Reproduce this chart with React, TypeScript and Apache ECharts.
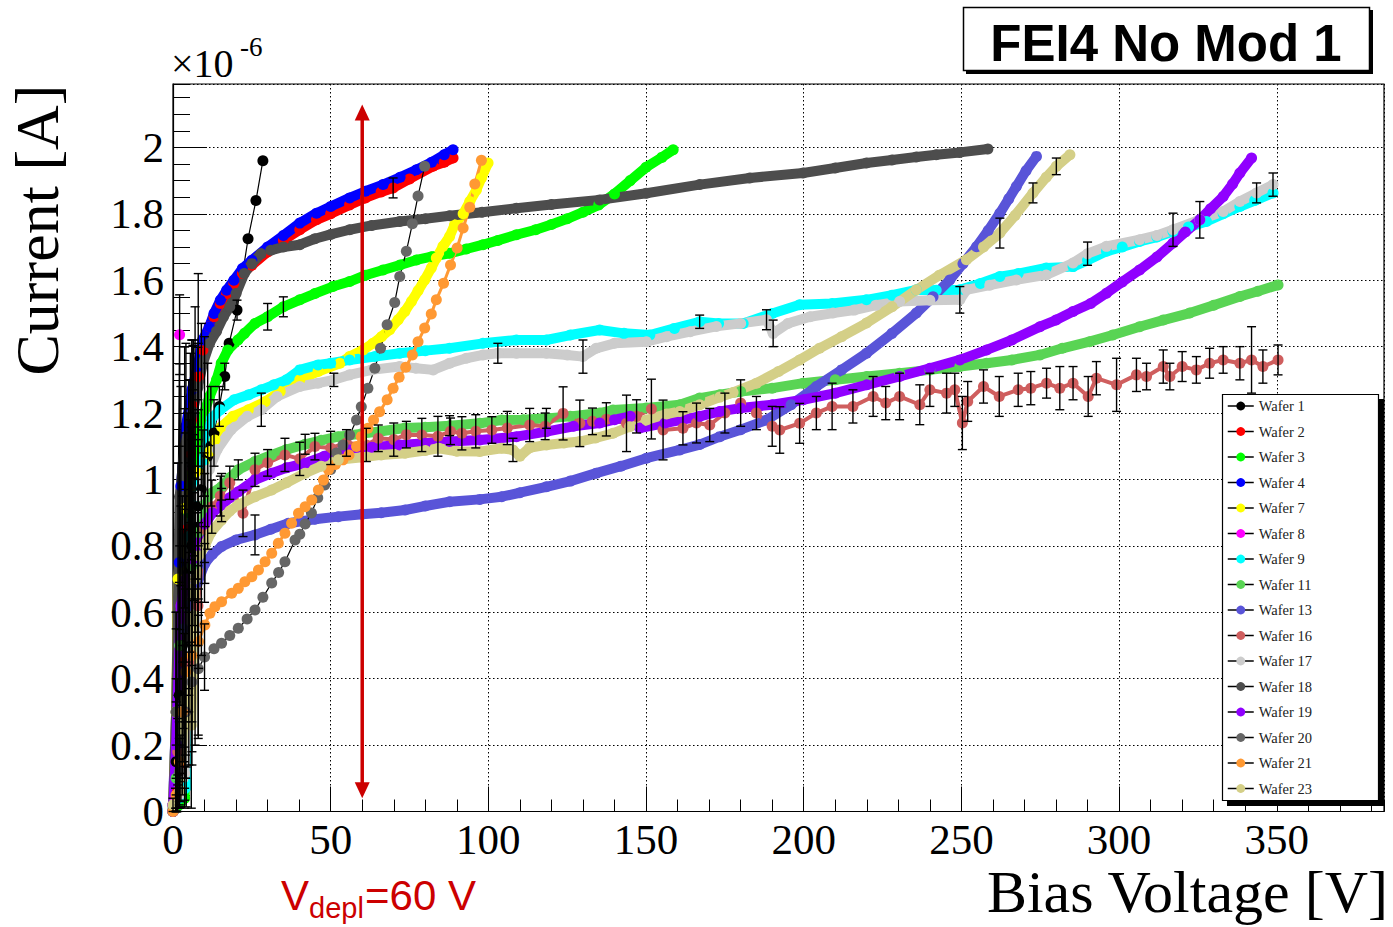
import React, { useEffect, useRef } from "react";
import * as echarts from "echarts";

// Each point: [bias voltage (V), leakage current (×1e-6 A), optional error half-width (×1e-6 A)]
type Pt = number[];

const WAFER_NAMES = [
  "Wafer 1", "Wafer 2", "Wafer 3", "Wafer 4", "Wafer 7", "Wafer 8", "Wafer 9", "Wafer 11",
  "Wafer 13", "Wafer 16", "Wafer 17", "Wafer 18", "Wafer 19", "Wafer 20", "Wafer 21", "Wafer 23",
];

const WAFER_COLORS = [
  "#000000", "#ff0000", "#00ff00", "#0000ff", "#ffff00", "#ff00ff", "#00ffff", "#59d454",
  "#5954d8", "#cf5e5e", "#cccccc", "#4d4d4d", "#9000ff", "#666666", "#ff9933", "#d4cf87",
];

const W1: Pt[] = [[0,0.02,0.02],[1,0.15,0.18],[2,0.35,0.34],[3,0.5,0.45],[4,0.62,0.52],[5,0.72,0.58],[6,0.8,0.62],[7,0.86,0.66],[8,0.92,0.7],[9,0.97,0.5],[10,1.03,0.4],[11,1.07,0.28],[12,1.1,0.18],[13,1.14,0.1],[14.7,1.22,0.06],[16.4,1.31,0.04],[17.8,1.41],[20.3,1.51,0.03],[23.8,1.725],[26.3,1.84],[28.5,1.96]];

const W2: Pt[] = [[0,0],[1.5,0.06,0.05],[2.5,0.13,0.1],[3.5,0.45,0.3],[4.5,0.85,0.35],[5.5,1.08,0.3],[6.5,1.22,0.2],[8,1.31,0.1],[9.5,1.39],[11.5,1.46],[13,1.49],[15,1.53],[17,1.56],[19.3,1.59],[22,1.62],[25,1.645],[30,1.685],[35,1.72],[40.2,1.752],[45.5,1.782],[50,1.8],[56,1.827],[61,1.848],[66,1.866],[69.8,1.878,0.03],[75,1.905],[82.4,1.943],[86,1.955],[88.8,1.968]];

const W3: Pt[] = [[0,0],[2,0.02],[3.7,0.04,0.03],[5,0.9,0.4],[6.3,1.02,0.25],[7.9,1.12,0.12],[9.5,1.19],[11.6,1.25],[13.8,1.3],[15.3,1.35],[17.4,1.39],[20.6,1.42],[22.7,1.44],[26,1.47],[30,1.49,0.04],[35,1.52,0.03],[40.2,1.541],[45,1.56],[50.7,1.581],[56,1.596],[61,1.615],[66.6,1.631],[72,1.646],[77.2,1.661],[82,1.671],[87.7,1.681],[93,1.694],[98.3,1.707],[103,1.72],[108.9,1.737],[115,1.752],[120,1.768],[125,1.785],[130,1.805],[135,1.827],[140,1.86],[145,1.9],[150,1.94],[155,1.97],[158.6,1.993]];

const W4: Pt[] = [[0,0.02],[1,0.3,0.25],[2,0.75,0.35],[2.5,0.98,0.3],[4.1,1.16,0.25],[6,1.27,0.15],[7.8,1.34],[9.4,1.42],[11.5,1.46],[13,1.5],[15,1.54],[17,1.57],[19.3,1.6],[22,1.635],[25,1.66],[30,1.7],[35,1.735],[40.2,1.772],[45.5,1.802],[50,1.822],[56,1.848],[61,1.868],[66.6,1.888],[72,1.91],[77.2,1.933],[82,1.955],[86,1.978],[88.8,1.993]];

const W7: Pt[] = [[0,0],[1,0.3,0.3],[1.6,0.7,0.35],[3.7,0.913,0.3],[5.8,0.958,0.2],[8,1.02,0.1],[9.8,1.05],[11.7,1.084],[13.3,1.119],[15.4,1.159],[19,1.19],[23.9,1.21],[29.2,1.234],[34,1.265],[40.2,1.3],[46,1.325],[52.9,1.35],[56,1.37],[60.3,1.39],[63.4,1.41],[66.1,1.43],[68.7,1.451],[71.4,1.481],[73.5,1.506],[75.6,1.536],[77.7,1.568],[79.8,1.601],[81.9,1.637],[83.5,1.667],[85.6,1.702],[87.7,1.732],[89.3,1.767],[92,1.8],[94.1,1.837],[96.2,1.872],[97.8,1.908],[99.9,1.953]];

const W8: Pt[] = [[0,0.02],[0.8,0.04,0.03],[2.1,1.436,0.12]];

const W9: Pt[] = [[0,0],[2,0.04,0.03],[4.2,0.074,0.06],[5.3,0.83,0.35],[7,0.95,0.25],[9.5,1.049,0.1],[12.2,1.184],[15,1.21],[19.4,1.24],[24,1.255],[28,1.27],[32,1.285],[36,1.3],[40.2,1.33],[46,1.345],[50,1.35],[56,1.36],[64,1.37],[71.9,1.38],[80,1.388],[87.7,1.395],[98.3,1.41],[108.9,1.42],[118.4,1.42],[126,1.435],[135.3,1.45],[143,1.44],[151.2,1.435],[159,1.455],[167,1.475,0.02],[173,1.47],[180.8,1.47],[190,1.5],[198.7,1.526],[209,1.53],[219.9,1.541],[228,1.555],[235.7,1.571],[242,1.57],[249.5,1.571],[256,1.59],[262.2,1.611],[268,1.62],[276.9,1.637],[285.4,1.641],[290,1.66],[296,1.687],[301,1.7],[306.5,1.717],[312,1.73],[317.1,1.747],[322,1.76],[327.7,1.777],[333,1.8],[338.3,1.822],[343,1.84],[348.8,1.863]];

const W11: Pt[] = [[0,0],[1,0.1,0.1],[2.1,0.5,0.3],[4,0.62,0.35],[6,0.74,0.3],[8,0.84,0.2],[10.1,0.938,0.08],[12.5,0.96],[15.4,0.978,0.04],[18,1.005],[20.7,1.029,0.03],[26,1.054],[31.3,1.074],[36,1.09],[41.9,1.106,0.03],[47,1.118],[52.4,1.129],[60,1.138],[66,1.145],[73.6,1.155],[80,1.157],[87.7,1.162,0.03],[97.3,1.169],[104.2,1.179],[111,1.18],[118.4,1.184,0.03],[126,1.19],[135.3,1.2],[139.5,1.209],[150,1.215],[160.7,1.225],[167,1.245],[173.4,1.255],[180,1.265],[190,1.275],[199.8,1.29],[210,1.3],[220,1.31],[230.4,1.32],[240,1.33],[249.5,1.34],[258,1.35],[266,1.36],[274.9,1.375],[282,1.395],[290.6,1.415],[298,1.435],[306.5,1.46],[314,1.48],[322.4,1.501],[330,1.525],[338.3,1.551],[344,1.567],[350.4,1.586]];

const W13: Pt[] = [[0,0],[1.5,0.2,0.2],[3.2,0.55,0.3],[5,0.62,0.25],[7.8,0.69,0.15],[10.1,0.747,0.06],[12.5,0.775],[15.4,0.798],[20,0.818],[26,0.833,0.06],[31,0.85],[36.6,0.868],[45,0.88],[52.4,0.888],[60,0.895],[66,0.9],[73.6,0.908],[80,0.92],[87.7,0.933],[97.3,0.94],[104.2,0.948],[110,0.96],[118.4,0.978],[126,0.995],[134.2,1.019],[142,1.04],[150.1,1.064],[160.7,1.089],[167,1.105],[173.4,1.129],[180,1.15],[188.2,1.179],[196,1.225],[204,1.28],[212,1.33],[219.9,1.38],[228,1.44],[235.7,1.501],[241,1.55],[246.3,1.601],[250.5,1.65],[254.8,1.701],[258.5,1.75],[262.2,1.802],[265,1.845],[267.4,1.882],[270.5,1.93],[273.8,1.973]];

const W16: Pt[] = [[0,0,0],[1.5,0.18,0.1],[3,0.3,0.15],[5,0.45,0.15],[7.9,0.62,0.12],[10,0.85,0.1],[12.3,0.918,0.08],[15,0.95,0.06],[18,0.99,0.05],[22.2,0.898,0.07],[26,1.029,0.05],[30,1.05,0.04],[35.5,1.074,0.05],[40.2,1.062,0.05],[45,1.099,0.04],[50,1.095,0.05],[55,1.11,0.04],[61.3,1.104,0.05],[65.1,1.124,0.04],[70,1.12,0.05],[74,1.135,0.04],[78.9,1.134,0.05],[84,1.13,0.06],[88,1.145,0.04],[91.6,1.139,0.05],[96,1.145,0.05],[101.1,1.149,0.04],[106,1.155,0.05],[113.1,1.164,0.05],[118,1.16,0.04],[123.7,1.199,0.08],[129,1.169,0.07],[133,1.175,0.04],[137.4,1.181,0.05],[143.8,1.169,0.085],[147,1.19,0.05],[151.7,1.212,0.09],[155.4,1.149,0.09],[161.7,1.154,0.05],[166,1.17,0.06],[170.2,1.164,0.05],[175,1.2,0.06],[180,1.23,0.07],[185,1.2,0.05],[190,1.16,0.06],[192.4,1.149,0.07],[198.7,1.169,0.06],[204,1.2,0.05],[209,1.22,0.07],[215.6,1.22,0.05],[222,1.25,0.06],[226,1.23,0.05],[230.4,1.25,0.07],[236.8,1.225,0.06],[240,1.27,0.05],[245.3,1.26,0.06],[247.9,1.27,0.05],[250.3,1.17,0.08],[252,1.235,0.06],[257,1.28,0.05],[262,1.25,0.06],[268,1.27,0.05],[272,1.275,0.05],[277,1.29,0.045],[281.2,1.275,0.065],[285.4,1.29,0.05],[290.2,1.25,0.06],[292.8,1.305,0.05],[299.2,1.285,0.08],[305.5,1.315,0.05],[308.7,1.31,0.04],[314,1.34,0.05],[316.1,1.31,0.04],[320,1.34,0.045],[324.5,1.33,0.04],[328.7,1.35,0.045],[333,1.36,0.04],[338.3,1.35,0.05],[342,1.36,0.1],[345.6,1.34,0.05],[350.4,1.36,0.045]];

const W17: Pt[] = [[0,0],[2,0.05,0.04],[3.7,0.114,0.08],[5,0.7,0.35],[6.6,0.885,0.25],[8,0.95,0.15],[9.8,1.0,0.08],[11.5,1.03],[14,1.09],[18.4,1.15],[23.6,1.19],[28,1.21,0.05],[33,1.25],[40.2,1.28],[46,1.29],[51,1.3,0.02],[56,1.315],[63,1.33],[71.9,1.34],[77,1.335],[82.5,1.33],[87.7,1.35],[93,1.365],[98.3,1.375],[103,1.38,0.03],[108.9,1.38],[118.4,1.38],[125,1.375],[130,1.37,0.05],[134.2,1.395],[140,1.41],[150.1,1.415],[156.5,1.43],[164,1.445],[172.3,1.461],[180,1.47],[188.2,1.481,0.03],[190.3,1.44,0.04],[195,1.47],[202,1.49],[209.3,1.501],[216,1.51],[223,1.525],[230.4,1.536],[240,1.54],[249.5,1.541,0.04],[251.6,1.571],[259,1.585],[267.4,1.601],[276.9,1.616],[285.4,1.652],[290,1.68,0.035],[296,1.702],[306.5,1.722],[312,1.735],[317.1,1.752,0.05],[325.6,1.782,0.055],[333,1.807],[338.3,1.837],[343.6,1.863,0.03],[348.8,1.888,0.035]];

const W18: Pt[] = [[0,0],[1,0.3,0.3],[2.1,0.948,0.4],[3.7,1.099,0.3],[6.3,1.204,0.2],[7.9,1.278,0.12],[9.5,1.35],[11.6,1.41],[13.8,1.446],[16,1.49],[18,1.52],[20,1.56],[22.6,1.62],[25,1.65],[27.9,1.68],[31,1.69],[35,1.7],[40.2,1.707],[45,1.725],[50,1.738],[56,1.752],[63,1.765],[71.9,1.777],[80,1.785],[87.7,1.794],[98,1.805],[108.9,1.817],[120,1.828],[135.3,1.842],[150.1,1.862],[167,1.888],[182.9,1.908],[199.8,1.923],[210,1.938],[219.9,1.953],[228,1.962],[235.7,1.971],[242,1.978],[249.5,1.985],[258.4,1.995]];

const W19: Pt[] = [[0,0],[1,0.2,0.2],[2.5,0.62,0.3],[4.1,0.7,0.25],[6.3,0.76,0.2],[7.8,0.8,0.1],[10.1,0.865],[12.5,0.9],[15.4,0.923,0.05],[18,0.945],[20.7,0.963],[26,0.999],[31.3,1.019],[36,1.035],[41.9,1.049],[48,1.07],[56,1.089],[63,1.097],[71.9,1.104],[80,1.109],[87.7,1.114],[97.3,1.119],[108.9,1.129],[118.4,1.144],[127,1.16],[135.3,1.17],[140,1.18],[145,1.19],[148,1.155],[156,1.17],[167,1.19],[173.4,1.205],[180,1.215],[190,1.225],[199.8,1.24],[210,1.26],[220,1.285],[230.4,1.31],[240,1.335],[249.5,1.36],[258,1.39],[266,1.42],[274.9,1.46],[280,1.48],[285.4,1.506],[291,1.53],[296,1.561],[301,1.595],[306.5,1.631],[312,1.67],[317.1,1.712],[321,1.745],[325.6,1.782],[329,1.815],[333,1.852],[336,1.89],[338.3,1.923],[342,1.968]];

const W20: Pt[] = [[0,0.01],[2,0.12,0.1],[4,0.3,0.2],[6,0.39,0.25],[8,0.43,0.2],[10,0.465,0.1],[13,0.49],[15.4,0.507],[18,0.53],[20.7,0.552],[23.5,0.58],[26,0.607],[28.5,0.645],[31.3,0.688],[33.5,0.72],[35.5,0.752],[38.7,0.818],[40.2,0.835],[41.9,0.866],[43.9,0.899],[45.9,0.945],[48.1,0.983],[50,1.03],[51.8,1.08],[53.9,1.104],[56,1.134],[58.2,1.179],[59.7,1.219],[61.8,1.275],[64,1.335],[65.8,1.395],[67.9,1.466],[70.3,1.533],[71.9,1.611],[74,1.687],[75.9,1.77],[77.7,1.854],[79.8,1.943]];

const W21: Pt[] = [[0,0],[1,0.05,0.05],[2,0.15,0.12],[3,0.3,0.2],[4,0.42,0.25],[6,0.47,0.2],[8.1,0.511,0.08],[10.1,0.562],[11.7,0.597],[13.3,0.617],[15.4,0.632],[18.6,0.657],[20.7,0.672],[22.8,0.692],[25,0.707],[27.1,0.727],[29.2,0.752],[31.3,0.778],[33.4,0.808],[35.5,0.838],[37.6,0.868],[39.8,0.898],[41.9,0.918],[44,0.938],[46.1,0.968],[47.7,0.998],[49.3,1.029],[51.5,1.045],[53.9,1.059],[55.8,1.074],[58.2,1.099],[59.7,1.129],[61.8,1.154],[63.6,1.179],[65.5,1.204],[67.9,1.24],[69.8,1.275],[71.7,1.308],[73.8,1.338],[75.9,1.375],[77.7,1.415],[79.8,1.456],[81.9,1.498],[83.5,1.541],[85.8,1.591],[88,1.646],[90.1,1.697],[92,1.757],[94.1,1.82],[95.7,1.89],[97.8,1.961]];

const W23: Pt[] = [[0,0.02],[2.1,0.065,0.05],[3.7,0.336,0.2],[5.8,0.26,0.25],[7,0.7,0.2],[8.1,0.77,0.1],[10.1,0.8],[12,0.84],[15.4,0.878],[18,0.905],[20.7,0.923],[26,0.948],[31.3,0.968],[36,0.99],[41.9,1.019],[47,1.04],[52.4,1.059],[60,1.067],[66,1.074],[73.6,1.079],[80,1.087],[84.2,1.094],[90,1.085],[97.3,1.084],[104.2,1.094],[107.8,1.089,0.035],[110,1.07],[113,1.095],[118.4,1.104],[124,1.11],[129,1.114],[134,1.125],[139.5,1.139],[144.8,1.159],[150.1,1.179],[156.5,1.197],[160.7,1.205],[167,1.225],[173.4,1.248],[177.6,1.262],[185,1.29],[192,1.325],[198.7,1.36],[205,1.395],[212,1.43],[219.9,1.471],[228,1.52],[235.7,1.571],[243,1.615],[251.6,1.662],[257,1.7],[262.2,1.742,0.045],[267,1.795],[272.7,1.863,0.03],[276.9,1.91],[280.1,1.943,0.025],[284.4,1.978]];

const WAFER_DATA: Pt[][] = [W1, W2, W3, W4, W7, W8, W9, W11, W13, W16, W17, W18, W19, W20, W21, W23];

// How each graph's connecting line is drawn: a thick band in the wafer colour,
// a thin line in the wafer colour, or a thin black line.
const LINE_MODES = ["black", "band", "band", "band", "band", "black", "band", "band", "band", "thin", "band", "band", "band", "black", "thin", "band"];

// Axis ranges (current in units of 1e-6 A)
const X_MIN = 0;
const X_MAX = 384;
const X_STEP = 50;
const X_MINOR = 10;
const Y_MIN = 0;
const Y_MAX = 2.191;
const Y_STEP = 0.2;
const Y_MINOR = 0.05;

// Full depletion voltage marker
const VDEPL = 60;
const ARROW_LOW = 0.064;
const ARROW_HIGH = 2.105;

const SERIF = '"Liberation Serif", "Times New Roman", serif';
const SANS = '"Liberation Sans", Arial, Helvetica, sans-serif';
const RED = "#cc0000";

function buildOption(): echarts.EChartsOption {
  const graphs: any[] = WAFER_NAMES.map((name, i) => {
    const mode = LINE_MODES[i];
    const color = WAFER_COLORS[i];
    const lineStyle =
      mode === "band"
        ? { color, width: 10 }
        : mode === "thin"
        ? { color, width: name === "Wafer 16" ? 4 : 3 }
        : { color: "#000", width: 1.2 };
    return {
      type: "line",
      name,
      data: WAFER_DATA[i].map((p) => [p[0], p[1]]),
      symbol: "circle",
      symbolSize: 11,
      showSymbol: true,
      itemStyle: { color },
      lineStyle,
      emphasis: { disabled: true },
      silent: true,
      z: 2,
    };
  });

  const errPoints: number[][] = [];
  WAFER_DATA.forEach((pts) =>
    pts.forEach((p) => {
      if (p.length > 2 && p[2] > 0) errPoints.push([p[0], p[1], p[2]]);
    })
  );

  const errorBars = {
    type: "custom",
    name: "errors",
    data: errPoints,
    encode: { x: 0, y: 1 },
    silent: true,
    z: 3,
    renderItem: (_params: any, api: any) => {
      const v = api.value(0);
      const c = api.value(1);
      const e = api.value(2);
      const lo = Math.max(Y_MIN, c - e);
      const hi = Math.min(Y_MAX, c + e);
      const top = api.coord([v, hi]);
      const bot = api.coord([v, lo]);
      const cap = 4.5;
      const style = { stroke: "#000", lineWidth: 1.4 };
      return {
        type: "group",
        children: [
          { type: "line", shape: { x1: top[0], y1: top[1], x2: bot[0], y2: bot[1] }, style },
          { type: "line", shape: { x1: top[0] - cap, y1: top[1], x2: top[0] + cap, y2: top[1] }, style },
          { type: "line", shape: { x1: bot[0] - cap, y1: bot[1], x2: bot[0] + cap, y2: bot[1] }, style },
        ],
      };
    },
  };

  const arrow = {
    type: "line",
    name: "depletion",
    data: [
      { value: [VDEPL, ARROW_LOW], symbolRotate: 180 },
      { value: [VDEPL, ARROW_HIGH], symbolRotate: 0 },
    ],
    symbol: "triangle",
    symbolSize: [15, 16],
    showSymbol: true,
    itemStyle: { color: RED },
    lineStyle: { color: RED, width: 3.5 },
    silent: true,
    emphasis: { disabled: true },
    z: 6,
  };

  const tickLine = { color: "#000", width: 1 };

  return {
    animation: false,
    backgroundColor: "#ffffff",
    grid: {
      left: 173,
      top: 84,
      right: 9,
      bottom: 115.5,
      show: true,
      borderColor: "#000",
      borderWidth: 1.2,
      backgroundColor: "transparent",
    },
    xAxis: [
      {
        type: "value",
        position: "bottom",
        min: X_MIN,
        max: X_MAX,
        interval: X_STEP,
        axisLine: { show: true, lineStyle: { color: "#000", width: 1.2 } },
        axisTick: { show: true, inside: true, length: 25, lineStyle: tickLine },
        axisLabel: {
          show: true,
          showMaxLabel: false,
          margin: 6.5,
          fontFamily: SERIF,
          fontSize: 43,
          color: "#000",
        },
        splitLine: { show: true, lineStyle: { color: "#000", width: 1, type: [1.5, 2.5] } },
      },
      {
        type: "value",
        position: "bottom",
        min: X_MIN,
        max: X_MAX,
        interval: X_MINOR,
        axisLine: { show: false },
        axisTick: { show: true, inside: true, length: 12, lineStyle: tickLine },
        axisLabel: { show: false },
        splitLine: { show: false },
      },
    ],
    yAxis: [
      {
        type: "value",
        position: "left",
        min: Y_MIN,
        max: Y_MAX,
        interval: Y_STEP,
        axisLine: { show: true, lineStyle: { color: "#000", width: 1.2 } },
        axisTick: { show: true, inside: true, length: 34, lineStyle: tickLine },
        axisLabel: {
          show: true,
          showMaxLabel: false,
          margin: 9,
          fontFamily: SERIF,
          fontSize: 43,
          color: "#000",
          padding: [12, 0, 0, 0],
          formatter: (v: number) => String(Math.round(v * 10) / 10),
        },
        splitLine: { show: true, lineStyle: { color: "#000", width: 1, type: [1.5, 2.5] } },
      },
      {
        type: "value",
        position: "left",
        min: Y_MIN,
        max: Y_MAX,
        interval: Y_MINOR,
        axisLine: { show: false },
        axisTick: { show: true, inside: true, length: 17, lineStyle: tickLine },
        axisLabel: { show: false },
        splitLine: { show: false },
      },
    ],
    legend: {
      data: WAFER_NAMES,
      orient: "vertical",
      left: 1227,
      top: 398,
      padding: 0,
      itemWidth: 26,
      itemHeight: 11,
      itemGap: 9.5,
      selectedMode: false,
      z: 20,
      lineStyle: { color: "#000", width: 1.5 },
      textStyle: { fontFamily: SERIF, fontSize: 14.5, color: "#222", lineHeight: 16 },
    },
    graphic: [
      // title box with drop shadow
      { type: "rect", silent: true, z: 10, shape: { x: 966, y: 10, width: 407, height: 64 }, style: { fill: "#000" } },
      { type: "rect", silent: true, z: 11, shape: { x: 963.5, y: 7.5, width: 406, height: 63 }, style: { fill: "#fff", stroke: "#000", lineWidth: 1.5 } },
      {
        type: "text", silent: true, z: 12, x: 1166, y: 43,
        style: { text: "FEI4 No Mod 1", fontFamily: SANS, fontWeight: "bold", fontSize: 51, fill: "#000", align: "center", verticalAlign: "middle" },
      },
      // legend box with drop shadow
      { type: "rect", silent: true, z: 10, shape: { x: 1227, y: 399, width: 157, height: 407 }, style: { fill: "#000" } },
      { type: "rect", silent: true, z: 11, shape: { x: 1222.5, y: 394.5, width: 156, height: 406 }, style: { fill: "#fff", stroke: "#000", lineWidth: 1.2 } },
      // y-axis exponent
      {
        type: "text", silent: true, z: 12, x: 171, y: 63,
        style: { text: "\u00d710", fontFamily: SERIF, fontSize: 40, fill: "#000", align: "left", verticalAlign: "middle" },
      },
      {
        type: "text", silent: true, z: 12, x: 240, y: 47,
        style: { text: "-6", fontFamily: SERIF, fontSize: 27, fill: "#000", align: "left", verticalAlign: "middle" },
      },
      // axis titles
      {
        type: "text", silent: true, z: 12, x: 37, y: 230, rotation: Math.PI / 2,
        style: { text: "Current [A]", fontFamily: SERIF, fontSize: 62, fill: "#000", align: "center", verticalAlign: "middle" },
      },
      {
        type: "text", silent: true, z: 12, x: 1388, y: 892,
        style: { text: "Bias Voltage [V]", fontFamily: SERIF, fontSize: 60, fill: "#000", align: "right", verticalAlign: "middle" },
      },
      // depletion voltage label
      {
        type: "text", silent: true, z: 12, x: 281, y: 895,
        style: { text: "V", fontFamily: SANS, fontSize: 42, fill: RED, align: "left", verticalAlign: "middle" },
      },
      {
        type: "text", silent: true, z: 12, x: 309, y: 908,
        style: { text: "depl", fontFamily: SANS, fontSize: 29, fill: RED, align: "left", verticalAlign: "middle" },
      },
      {
        type: "text", silent: true, z: 12, x: 365, y: 895,
        style: { text: `=${VDEPL} V`, fontFamily: SANS, fontSize: 42, fill: RED, align: "left", verticalAlign: "middle" },
      },
    ],
    series: [...graphs, errorBars, arrow],
  } as any;
}

export default function App() {
  const ref = useRef<HTMLDivElement>(null);

  useEffect(() => {
    if (!ref.current) return;
    const chart = echarts.init(ref.current, null, { renderer: "svg" });
    chart.setOption(buildOption());
    return () => chart.dispose();
  }, []);

  return (
    <div
      ref={ref}
      style={{ position: "fixed", left: 0, top: 0, width: 1393, height: 927, background: "#fff" }}
    />
  );
}
